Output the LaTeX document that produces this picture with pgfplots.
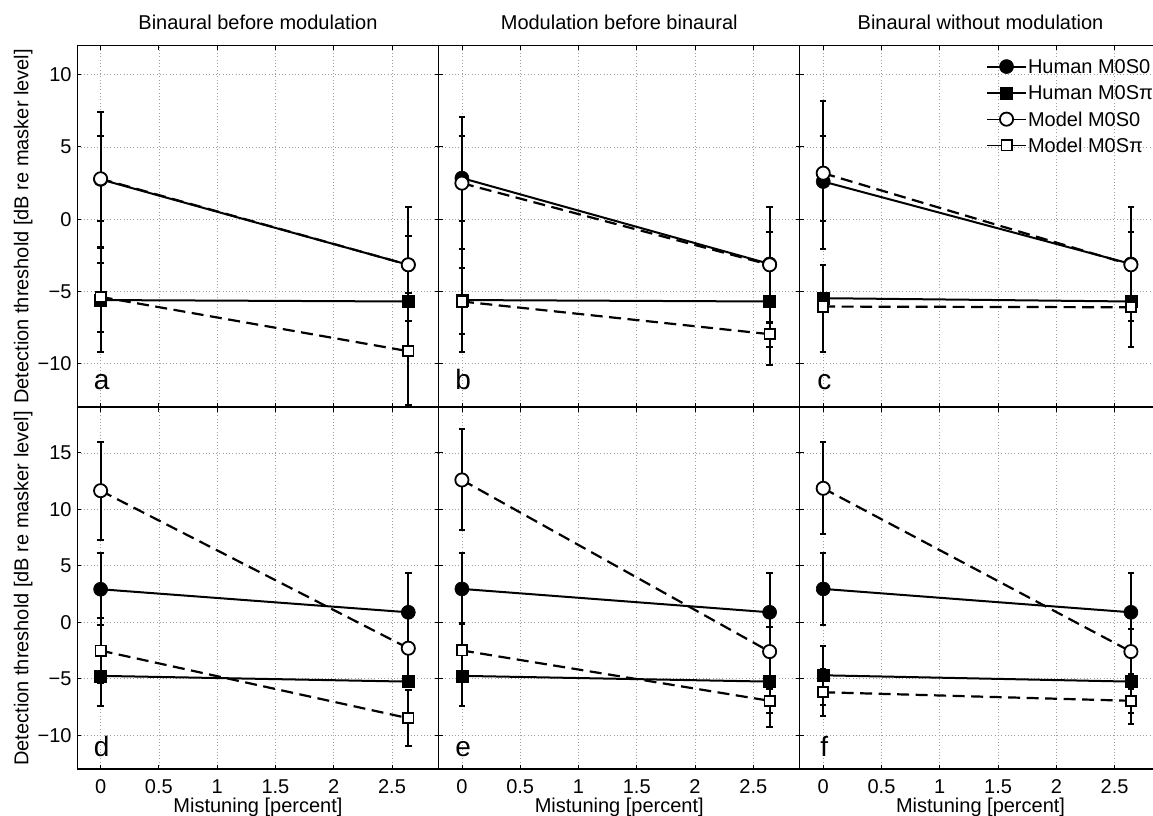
\documentclass[border=0pt]{standalone}
\usepackage{fontspec}
\setmainfont{Liberation Sans}
\usepackage{pgfplots}
\pgfplotsset{compat=1.18}
\newcommand\fs{\fontsize{20}{24}\selectfont}
\newcommand\fl{\fontsize{28}{30}\selectfont}
\pgfplotsset{
 panel/.style={scale only axis, width=361.3pt, height=361.3pt, xmin=-0.2, xmax=2.9,
  xtick={0,0.5,1,1.5,2,2.5},
  grid=major, major grid style={gray!75, line width=0.7pt, dash pattern=on 0.7pt off 2.6pt},
  axis line style={line width=1.1pt},
  every tick/.style={black, line width=0.8pt}, tick align=inside, major tick length=4pt,
  /pgf/number format/assume math mode=true,
  tick label style={font=\fs},
  yticklabel style={anchor=east, inner sep=0pt, xshift=-5.6pt},
  xticklabel style={anchor=base, inner sep=0pt, yshift=-24pt},
  every axis title shift=0pt,
  label style={font=\fs}, title style={font=\fs, at={(axis description cs:0.5,1)}, anchor=base, yshift=15.7pt},
  legend image code/.code={\draw[mark repeat=2,mark phase=2,##1,solid] plot coordinates {(0pt,0pt) (19.5pt,0pt) (39pt,0pt)};},
 },
 toprow/.style={panel, ymin=-13, ymax=12, ytick={-10,-5,0,5,10}, yticklabels={−10,−5,0,5,10}, xticklabels={}},
 botrow/.style={panel, ymin=-13, ymax=19, ytick={-10,-5,0,5,10,15}, yticklabels={−10,−5,0,5,10,15},
   xticklabels={0,0.5,1,1.5,2,2.5}, xlabel={Mistuning [percent]},
   xlabel style={at={(axis description cs:0.5,0)}, anchor=base, yshift=-43.3pt}},
 noylab/.style={yticklabels={}},
 leftcol/.style={ylabel={Detection threshold [dB re masker level]}, ylabel style={at={(axis description cs:-0.150,0.5)}, anchor=center}},
 eb/.style={error bars/y dir=both, error bars/y explicit, error bars/error bar style={solid, line width=2.2pt}, error bars/error mark options={solid, line width=2pt, mark size=3.2pt, rotate=90}},
 hs0/.style={black, solid, line width=2pt, mark=*, mark size=7pt, mark options={solid, fill=black, line width=0.6pt}, eb},
 hsp/.style={black, solid, line width=2pt, mark=square*, mark size=6pt, mark options={solid, fill=black, line width=0.6pt}, eb},
 ms0/.style={black, line width=2.2pt, dash pattern=on 12pt off 6.5pt, mark=*, mark size=6.6pt, mark options={solid, fill=white, line width=1.8pt}, eb},
 msp/.style={black, line width=2.2pt, dash pattern=on 12pt off 6.5pt, mark=square*, mark size=5.1pt, mark options={solid, fill=white, line width=1.8pt}, eb},
}
\begin{document}
\begin{tikzpicture}
\path[use as bounding box, clip] (0pt,0pt) rectangle (1153pt,815pt);
% ---------- panel a ----------
\begin{axis}[toprow, leftcol, at={(77.3pt,408pt)}, anchor=south west, title={Binaural before modulation}]
\addplot[hs0] coordinates {(0,2.75) +=(0,4.63) -=(0,4.65) (2.64,-3.16) +=(0,3.99) -=(0,3.92)};
\addplot[hsp] coordinates {(0,-5.6) +=(0,3.6) -=(0,3.56) (2.64,-5.7) +=(0,0.3) -=(0,0.3)};
\addplot[ms0] coordinates {(0,2.79) +=(0,2.93) -=(0,2.95) (2.64,-3.16) +=(0,1.96) -=(0,1.96)};
\addplot[msp] coordinates {(0,-5.38) +=(0,2.33) -=(0,2.4) (2.64,-9.14) +=(0,3.7) -=(0,3.7)};
\node[font=\fl, anchor=base] at (axis cs:0.01,-11.8) {a};
\end{axis}
% ---------- panel b ----------
\begin{axis}[toprow, noylab, at={(438.6pt,408pt)}, anchor=south west, title={Modulation before binaural}]
\addplot[hs0] coordinates {(0,2.84) +=(0,4.22) -=(0,4.92) (2.64,-3.1) +=(0,3.93) -=(0,4.06)};
\addplot[hsp] coordinates {(0,-5.6) +=(0,3.52) -=(0,3.56) (2.64,-5.7) +=(0,0.3) -=(0,4.4)};
\addplot[ms0] coordinates {(0,2.49) +=(0,3.23) -=(0,2.65) (2.64,-3.16) +=(0,2.3) -=(0,2.3)};
\addplot[msp] coordinates {(0,-5.7) +=(0,2.35) -=(0,2.26) (2.64,-7.96) +=(0,0.86) -=(0,0.86)};
\node[font=\fl, anchor=base] at (axis cs:0.01,-11.8) {b};
\end{axis}
% ---------- panel c ----------
\begin{axis}[toprow, noylab, at={(799.9pt,408pt)}, anchor=south west, title={Binaural without modulation},
  legend style={draw=none, fill=none, at={(axis cs:1.397,11.11)}, anchor=north west, inner sep=0pt, outer sep=0pt,
    font=\fs, row sep=10.3pt,
    nodes={inner sep=1pt, text height=14pt, text depth=0pt},
    /tikz/every even column/.append style={column sep=3.3pt}},
  legend cell align=left]
\addplot[hs0] coordinates {(0,2.6) +=(0,5.54) -=(0,4.68) (2.64,-3.1) +=(0,3.93) -=(0,3.98)};
\addlegendentry{Human M0S0}
\addplot[hsp] coordinates {(0,-5.47) +=(0,2.31) -=(0,3.69) (2.64,-5.7) +=(0,0.3) -=(0,3.12)};
\addlegendentry{Human M0Sπ}
\addplot[ms0, legend image post style={line width=1.2pt}] coordinates {(0,3.18) +=(0,2.54) -=(0,3.34) (2.64,-3.16) +=(0,2.26) -=(0,2.26)};
\addlegendentry{Model M0S0}
\addplot[msp, legend image post style={line width=1.2pt}] coordinates {(0,-6.05) +=(0,0.3) -=(0,0.3) (2.64,-6.1) +=(0,0.3) -=(0,0.3)};
\addlegendentry{Model M0Sπ}
\node[font=\fl, anchor=base] at (axis cs:0.01,-11.8) {c};
\end{axis}
% ---------- panel d ----------
\begin{axis}[botrow, leftcol, at={(77.3pt,46pt)}, anchor=south west]
\addplot[hs0] coordinates {(0,2.92) +=(0,3.18) -=(0,3.2) (2.64,0.88) +=(0,3.51) -=(0,3.51)};
\addplot[hsp] coordinates {(0,-4.75) +=(0,2.63) -=(0,2.63) (2.64,-5.26) +=(0,0.4) -=(0,0.4)};
\addplot[ms0] coordinates {(0,11.65) +=(0,4.33) -=(0,4.37) (2.64,-2.3) +=(0,3.0) -=(0,3.0)};
\addplot[msp] coordinates {(0,-2.51) +=(0,2.86) -=(0,2.86) (2.64,-8.5) +=(0,2.5) -=(0,2.5)};
\node[font=\fl, anchor=base] at (axis cs:0.01,-11.9) {d};
\end{axis}
% ---------- panel e ----------
\begin{axis}[botrow, noylab, at={(438.6pt,46pt)}, anchor=south west]
\addplot[hs0] coordinates {(0,2.95) +=(0,3.15) -=(0,3.05) (2.64,0.88) +=(0,3.51) -=(0,3.51)};
\addplot[hsp] coordinates {(0,-4.75) +=(0,2.63) -=(0,2.63) (2.64,-5.26) +=(0,0.4) -=(0,4.04)};
\addplot[ms0] coordinates {(0,12.6) +=(0,4.5) -=(0,4.43) (2.64,-2.6) +=(0,2.2) -=(0,2.2)};
\addplot[msp] coordinates {(0,-2.5) +=(0,2.3) -=(0,2.3) (2.64,-6.96) +=(0,1.09) -=(0,1.09)};
\node[font=\fl, anchor=base] at (axis cs:0.01,-11.9) {e};
\end{axis}
% ---------- panel f ----------
\begin{axis}[botrow, noylab, at={(799.9pt,46pt)}, anchor=south west]
\addplot[hs0] coordinates {(0,2.95) +=(0,3.15) -=(0,3.19) (2.64,0.88) +=(0,3.51) -=(0,3.51)};
\addplot[hsp] coordinates {(0,-4.7) +=(0,2.63) -=(0,2.6) (2.64,-5.26) +=(0,0.4) -=(0,3.74)};
\addplot[ms0] coordinates {(0,11.86) +=(0,4.14) -=(0,4.06) (2.64,-2.6) +=(0,1.98) -=(0,1.98)};
\addplot[msp] coordinates {(0,-6.2) +=(0,2.1) -=(0,2.1) (2.64,-6.96) +=(0,1.09) -=(0,1.09)};
\node[font=\fl, anchor=base] at (axis cs:0.01,-11.9) {f};
\end{axis}
\end{tikzpicture}
\end{document}
